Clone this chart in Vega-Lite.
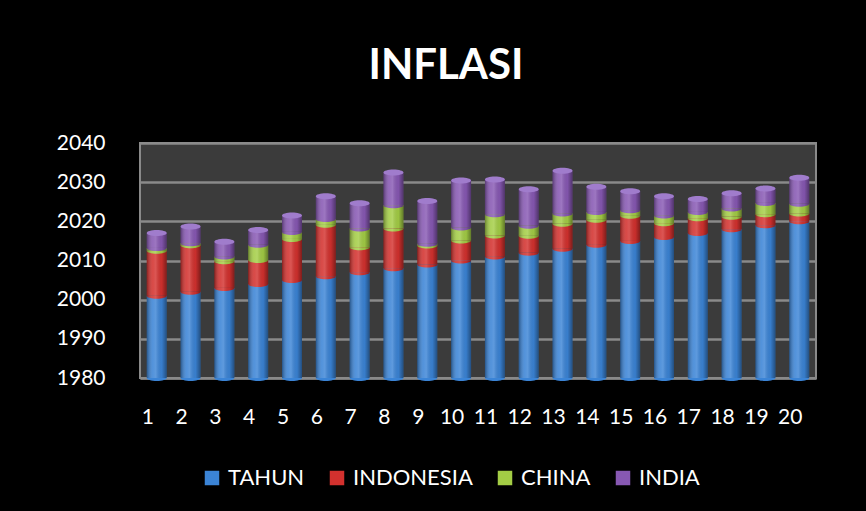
{
  "$schema": "https://vega.github.io/schema/vega-lite/v6.json",
  "width": 676,
  "height": 235,
  "autosize": {"type": "none"},
  "padding": {"left": 140, "top": 143, "right": 50, "bottom": 133},
  "background": "#000000",
  "title": {
    "text": "INFLASI",
    "font": "Lato",
    "fontSize": 42,
    "fontWeight": "bold",
    "color": "#ffffff",
    "anchor": "middle",
    "dx": -32,
    "offset": 44
  },
  "data": {
    "values": [
      {"n": 1, "TAHUN": 2001, "INDONESIA": 11.5, "CHINA": 0.7, "INDIA": 3.8},
      {"n": 2, "TAHUN": 2002, "INDONESIA": 11.9, "CHINA": 0.5, "INDIA": 4.3},
      {"n": 3, "TAHUN": 2003, "INDONESIA": 6.8, "CHINA": 1.2, "INDIA": 3.8},
      {"n": 4, "TAHUN": 2004, "INDONESIA": 6.1, "CHINA": 3.9, "INDIA": 3.8},
      {"n": 5, "TAHUN": 2005, "INDONESIA": 10.5, "CHINA": 1.8, "INDIA": 4.2},
      {"n": 6, "TAHUN": 2006, "INDONESIA": 13.1, "CHINA": 1.5, "INDIA": 5.8},
      {"n": 7, "TAHUN": 2007, "INDONESIA": 6.4, "CHINA": 4.8, "INDIA": 6.4},
      {"n": 8, "TAHUN": 2008, "INDONESIA": 10.2, "CHINA": 5.9, "INDIA": 8.4},
      {"n": 9, "TAHUN": 2009, "INDONESIA": 4.8, "CHINA": 0.5, "INDIA": 10.9},
      {"n": 10, "TAHUN": 2010, "INDONESIA": 5.1, "CHINA": 3.3, "INDIA": 12.0},
      {"n": 11, "TAHUN": 2011, "INDONESIA": 5.4, "CHINA": 5.4, "INDIA": 8.9},
      {"n": 12, "TAHUN": 2012, "INDONESIA": 4.3, "CHINA": 2.6, "INDIA": 9.3},
      {"n": 13, "TAHUN": 2013, "INDONESIA": 6.4, "CHINA": 2.6, "INDIA": 10.9},
      {"n": 14, "TAHUN": 2014, "INDONESIA": 6.4, "CHINA": 2.0, "INDIA": 6.4},
      {"n": 15, "TAHUN": 2015, "INDONESIA": 6.4, "CHINA": 1.4, "INDIA": 4.9},
      {"n": 16, "TAHUN": 2016, "INDONESIA": 3.5, "CHINA": 2.0, "INDIA": 4.9},
      {"n": 17, "TAHUN": 2017, "INDONESIA": 3.8, "CHINA": 1.6, "INDIA": 3.3},
      {"n": 18, "TAHUN": 2018, "INDONESIA": 3.2, "CHINA": 2.1, "INDIA": 3.9},
      {"n": 19, "TAHUN": 2019, "INDONESIA": 2.8, "CHINA": 2.9, "INDIA": 3.7},
      {"n": 20, "TAHUN": 2020, "INDONESIA": 2.0, "CHINA": 2.5, "INDIA": 6.6}
    ]
  },
  "transform": [
    {"fold": ["TAHUN", "INDONESIA", "CHINA", "INDIA"], "as": ["seri", "nilai"]},
    {"stack": "nilai", "groupby": ["n"], "as": ["bawah", "atas"]}
  ],
  "config": {
    "view": {"fill": "#3b3b3b", "stroke": "#8a8a8a", "strokeWidth": 2},
    "axisX": {
      "title": null,
      "labelAngle": 0,
      "labelFont": "Lato",
      "labelFontSize": 21,
      "labelColor": "#ffffff",
      "labelPadding": 28,
      "labelOffset": -9,
      "ticks": false,
      "grid": false,
      "domain": true,
      "domainColor": "#8a8a8a",
      "domainWidth": 2
    },
    "axisY": {
      "title": null,
      "labelOverlap": false,
      "labelFont": "Lato",
      "labelFontSize": 21,
      "labelColor": "#ffffff",
      "labelPadding": 35,
      "ticks": false,
      "domain": false,
      "grid": true,
      "gridColor": "#8a8a8a",
      "gridWidth": 2.5
    },
    "legend": {
      "orient": "none",
      "legendX": 61,
      "legendY": 324,
      "direction": "horizontal",
      "symbolType": "square",
      "symbolSize": 210,
      "symbolStrokeWidth": 0,
      "labelFont": "Lato",
      "labelFontSize": 22,
      "labelColor": "#ffffff",
      "columnPadding": 21,
      "labelOffset": 5
    }
  },
  "layer": [
    {
      "mark": {"type": "bar"},
      "encoding": {
        "x": {
          "field": "n",
          "type": "ordinal",
          "scale": {"paddingInner": 0.41, "paddingOuter": 0.2},
          "axis": {"title": null}
        },
        "y": {
          "field": "bawah",
          "type": "quantitative",
          "scale": {"domain": [1980, 2040], "clamp": true, "nice": false, "zero": false},
          "axis": {"title": null, "values": [1980, 1990, 2000, 2010, 2020, 2030, 2040], "format": "d"}
        },
        "y2": {"field": "atas"},
        "color": {
          "field": "seri",
          "type": "nominal",
          "scale": {
            "domain": ["TAHUN", "INDONESIA", "CHINA", "INDIA"],
            "range": ["#3b84d6", "#d3312e", "#a3cd45", "#8758b3"]
          },
          "legend": {"title": null, "symbolType": "square"}
        }
      }
    },
    {
      "mark": {
        "type": "point",
        "shape": "M-1,0A1,0.3 0 0,0 1,0Z",
        "filled": true,
        "size": 400,
        "opacity": 1
      },
      "encoding": {
        "x": {"field": "n", "type": "ordinal", "axis": {"title": null}},
        "y": {
          "field": "bawah",
          "type": "quantitative",
          "axis": {"title": null, "values": [1980, 1990, 2000, 2010, 2020, 2030, 2040], "format": "d"}
        },
        "color": {
          "field": "seri",
          "type": "nominal",
          "legend": {"title": null, "symbolType": "square"}
        }
      }
    },
    {
      "mark": {
        "type": "bar",
        "color": {
          "gradient": "linear",
          "x1": 0, "x2": 1, "y1": 0, "y2": 0,
          "stops": [
            {"offset": 0, "color": "rgba(0,0,0,0.35)"},
            {"offset": 0.3, "color": "rgba(255,255,255,0.12)"},
            {"offset": 0.45, "color": "rgba(255,255,255,0.18)"},
            {"offset": 0.75, "color": "rgba(0,0,0,0.05)"},
            {"offset": 1, "color": "rgba(0,0,0,0.4)"}
          ]
        }
      },
      "encoding": {
        "x": {"field": "n", "type": "ordinal", "axis": {"title": null}},
        "y": {
          "field": "bawah",
          "type": "quantitative",
          "axis": {"title": null, "values": [1980, 1990, 2000, 2010, 2020, 2030, 2040], "format": "d"}
        },
        "y2": {"field": "atas"}
      }
    },
    {
      "transform": [{"filter": "datum.seri === 'INDIA'"}],
      "mark": {
        "type": "point",
        "shape": "M-1,0A1,0.3 0 1,1 1,0A1,0.3 0 1,1 -1,0Z",
        "filled": true,
        "size": 400,
        "color": "#a07ccc",
        "opacity": 1
      },
      "encoding": {
        "x": {"field": "n", "type": "ordinal", "axis": {"title": null}},
        "y": {
          "field": "atas",
          "type": "quantitative",
          "axis": {"title": null, "values": [1980, 1990, 2000, 2010, 2020, 2030, 2040], "format": "d"}
        }
      }
    }
  ]
}
